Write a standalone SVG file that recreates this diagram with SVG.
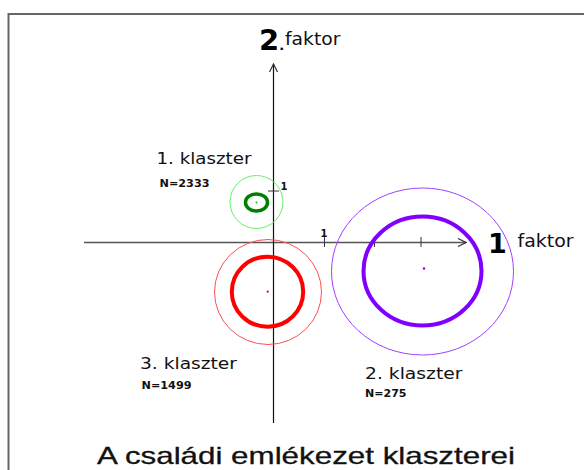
<svg xmlns="http://www.w3.org/2000/svg" width="584" height="470" viewBox="0 0 584 470">
<defs>
<marker id="arr" viewBox="0 0 10 10" refX="9" refY="5" markerWidth="10" markerHeight="10" markerUnits="userSpaceOnUse" orient="auto">
<path d="M1,1 L9,5 L1,9" fill="none" stroke="#333" stroke-width="1.2"/>
</marker>
<style>
.lbl{font-family:"DejaVu Sans",Verdana,sans-serif;font-size:15px;fill:#111}
.n{font-family:"DejaVu Sans",Verdana,sans-serif;font-size:10px;font-weight:bold;fill:#111}
.big{font-family:"DejaVu Sans",Verdana,sans-serif;font-weight:bold;fill:#000}
.fak{font-family:"DejaVu Sans",Verdana,sans-serif;font-size:17px;fill:#111}
.tick{stroke:#333;stroke-width:1}
.title{font-family:"Liberation Sans",Arial,sans-serif;font-size:24px;fill:#111;stroke:#111;stroke-width:0.3}
</style>
</defs>
<rect width="584" height="470" fill="#fff"/>
<path d="M8.5,470 V14 H584" fill="none" stroke="#666" stroke-width="2"/>

<g id="connectors">
<line x1="84" y1="242.5" x2="466" y2="242.5" stroke="#555" stroke-width="1.5" marker-end="url(#arr)"/>
<line x1="273.5" y1="423" x2="273.5" y2="64" stroke="#111" stroke-width="1.2" marker-end="url(#arr)"/>
<line class="tick" x1="268" y1="191" x2="279" y2="191"/>
<line class="tick" x1="324.5" y1="237" x2="324.5" y2="247"/>
<line class="tick" x1="374.5" y1="237" x2="374.5" y2="247"/>
<line class="tick" x1="421" y1="237" x2="421" y2="247"/>
<text class="n" x="280.5" y="190" font-size="11">1</text>
<text class="n" x="320.5" y="237" font-size="11">1</text>
</g>

<g id="axis2-label">
<text class="big" x="259" y="50" font-size="29">2<tspan font-size="13">.</tspan></text>
<text class="fak" x="285" y="45" textLength="55.5" lengthAdjust="spacingAndGlyphs">faktor</text>
</g>
<g id="axis1-label">
<text class="big" x="488" y="252.5" font-size="27">1</text>
<text class="fak" x="517.5" y="247" textLength="56" lengthAdjust="spacingAndGlyphs">faktor</text>
</g>

<g id="cluster1">
<circle cx="256.5" cy="202" r="26.5" fill="none" stroke="#66ee66" stroke-width="1"/>
<ellipse cx="256.5" cy="202.5" rx="11" ry="8.5" fill="none" stroke="#008000" stroke-width="3.5"/>
<circle cx="256.5" cy="202.5" r="1" fill="#00cc00"/>
<text class="lbl" x="156.5" y="164" textLength="95" lengthAdjust="spacingAndGlyphs">1. klaszter</text>
<text class="n" x="159.5" y="187" textLength="50" lengthAdjust="spacingAndGlyphs">N=2333</text>
</g>

<g id="cluster2">
<ellipse cx="422.5" cy="271.5" rx="91" ry="83.5" fill="none" stroke="#a040ff" stroke-width="1"/>
<ellipse cx="422.5" cy="271" rx="59" ry="54.5" fill="none" stroke="#8000ff" stroke-width="4"/>
<circle cx="424" cy="268.5" r="1.2" fill="#8000ff"/>
<text class="lbl" x="365" y="378.5" textLength="97.5" lengthAdjust="spacingAndGlyphs">2. klaszter</text>
<text class="n" x="365" y="397" textLength="41.5" lengthAdjust="spacingAndGlyphs">N=275</text>
</g>

<g id="cluster3">
<ellipse cx="268" cy="292" rx="53.5" ry="52.5" fill="none" stroke="#ff5050" stroke-width="1"/>
<ellipse cx="267.5" cy="291.7" rx="35.7" ry="35" fill="none" stroke="#ff0000" stroke-width="4"/>
<circle cx="267.7" cy="291.7" r="1.1" fill="#ff0000"/>
<text class="lbl" x="140" y="368.5" textLength="97" lengthAdjust="spacingAndGlyphs">3. klaszter</text>
<text class="n" x="141.5" y="388.5" textLength="50" lengthAdjust="spacingAndGlyphs">N=1499</text>
</g>

<text class="title" x="97" y="463.5" textLength="418" lengthAdjust="spacingAndGlyphs">A családi emlékezet klaszterei</text>
</svg>
